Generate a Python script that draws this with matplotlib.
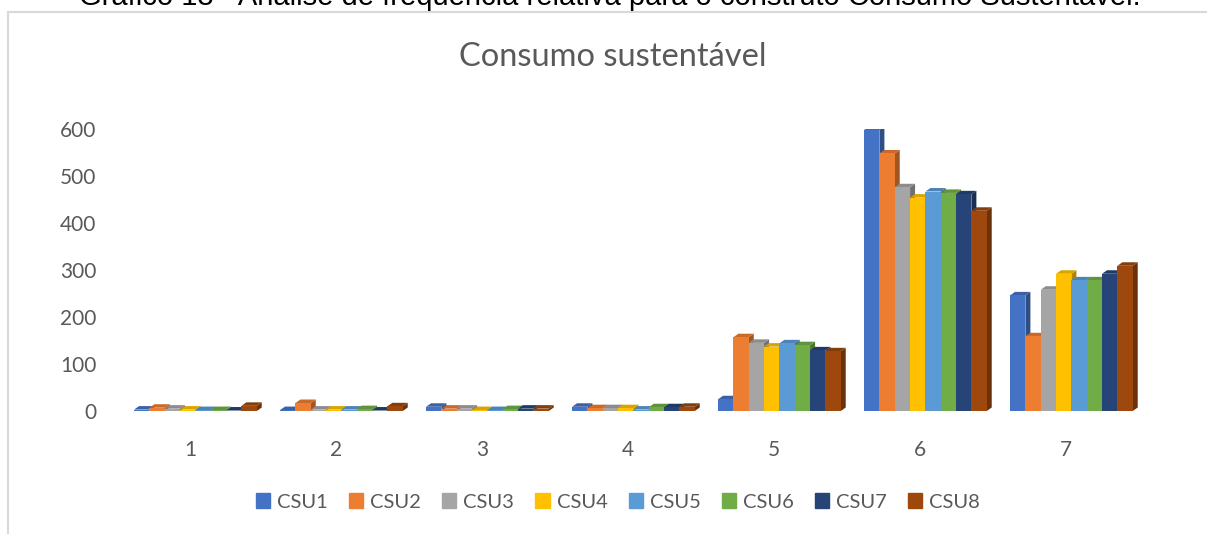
import matplotlib
matplotlib.use("Agg")
import matplotlib.pyplot as plt
from matplotlib.patches import Rectangle
import matplotlib.colors as mcolors

categories = ["1", "2", "3", "4", "5", "6", "7"]
series_names = ["CSU1", "CSU2", "CSU3", "CSU4", "CSU5", "CSU6", "CSU7", "CSU8"]
CSU1 = [3, 2, 9, 9, 25, 598, 246]
CSU2 = [7, 17, 5, 6, 157, 548, 159]
CSU3 = [5, 3, 5, 6, 145, 476, 258]
CSU4 = [3, 3, 2, 6, 137, 454, 292]
CSU5 = [2, 3, 2, 3, 144, 467, 278]
CSU6 = [2, 4, 4, 8, 140, 464, 278]
CSU7 = [1, 1, 5, 8, 129, 461, 292]
CSU8 = [11, 10, 5, 9, 127, 426, 309]
series_values = [CSU1, CSU2, CSU3, CSU4, CSU5, CSU6, CSU7, CSU8]
y_ticks = [0, 100, 200, 300, 400, 500, 600]

colors = ["#4472C4", "#ED7D31", "#A5A5A5", "#FFC000", "#5B9BD5", "#70AD47", "#264478", "#9E480E"]
title = "Consumo sustentável"
caption = "Gráfico 13 - Análise de frequência relativa para o construto Consumo Sustentável."

FONT = ["Lato", "DejaVu Sans"]
TXT = "#595959"

W, H = 1207, 534
fig = plt.figure(figsize=(W / 100, H / 100), dpi=100)

# outer chart frame (partially visible)
fig.patches.append(Rectangle((8 / W, -0.2), 1.2, 1.2 - 12 / H, transform=fig.transFigure,
                             fill=False, edgecolor="#D9D9D9", linewidth=1.5))
# caption, cut off at the top as in the source
fig.text(610 / W, 1 - 5 / H, caption, ha="center", va="baseline", fontsize=21,
         family=["Liberation Sans", "DejaVu Sans"], color="black")

left_px, right_px = 117, 1139
base_px, top_px = 411, 129
ax = fig.add_axes([left_px / W, 1 - base_px / H, (right_px - left_px) / W, (base_px - top_px) / H])
ax.set_xlim(-0.5, len(categories) - 0.5)
ax.set_ylim(0, 600)

n = len(series_names)
bw = 0.105
shift = 0.037
dx = 5 / 146.0
dy = 3.5 / ((base_px - top_px) / 600.0)


def shade(c, f):
    r, g, b = mcolors.to_rgb(c)
    return (r * f, g * f, b * f)


for j, (vals, col) in enumerate(zip(series_values, colors)):
    z = 2 + j
    for i, v in enumerate(vals):
        x0 = i + shift + (j - n / 2) * bw
        x1 = x0 + bw
        ax.bar(x0, v, width=bw, align="edge", color=col, zorder=z + 0.2, linewidth=0)
        ax.fill([x1, x1 + dx, x1 + dx, x1], [0, dy, v + dy, v], color=shade(col, 0.68),
                zorder=z, linewidth=0)
        ax.fill([x0, x0 + dx, x1 + dx, x1], [v, v + dy, v + dy, v], color=shade(col, 0.85),
                zorder=z + 0.1, linewidth=0)

for s in ax.spines.values():
    s.set_visible(False)
ax.set_xticks(range(len(categories)))
ax.set_xticklabels(categories)
ax.set_yticks(y_ticks)
ax.set_yticklabels([str(t) for t in y_ticks])
ax.tick_params(axis="both", length=0, labelcolor=TXT, labelsize=15)
ax.tick_params(axis="x", pad=21)
ax.tick_params(axis="y", pad=15)
for lab in ax.get_xticklabels() + ax.get_yticklabels():
    lab.set_family(FONT)

fig.text(613 / W, 1 - 57 / H, title, ha="center", va="center", fontsize=23.5, color=TXT, family=FONT)

handles = [Rectangle((0, 0), 1, 1, color=c) for c in colors]
leg = fig.legend(handles, series_names, loc="center", bbox_to_anchor=(618 / W, 1 - 502 / H), ncol=n,
                 frameon=False, handlelength=0.7, handleheight=0.7, handletextpad=0.35,
                 columnspacing=1.05, prop={"family": FONT, "size": 14.5})
for t in leg.get_texts():
    t.set_color(TXT)

fig.savefig("out.png", dpi=100)
